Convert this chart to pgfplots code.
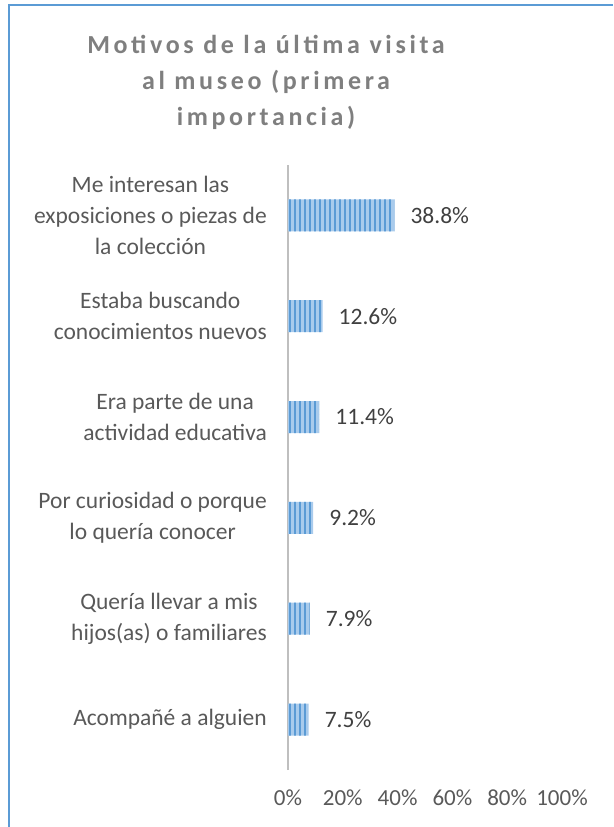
\documentclass[border=0pt]{standalone}
\usepackage{pgfplots}
\pgfplotsset{compat=1.18}
\usepackage{fontspec}
\setmainfont{Carlito}
\newfontfamily\titlefont[LetterSpace=14]{Carlito}
\usetikzlibrary{patterns.meta}
\definecolor{frameblue}{HTML}{5B9BD5}
\definecolor{barlight}{HTML}{A9CBEC}
\definecolor{barstripe}{HTML}{5B9BD5}
\definecolor{titlegray}{HTML}{7F7F7F}
\definecolor{labgray}{HTML}{595959}
\definecolor{valgray}{HTML}{404040}
\definecolor{axgray}{HTML}{BFBFBF}
\begin{document}
\begin{tikzpicture}[x=1pt,y=1pt]
\useasboundingbox (0,0) rectangle (613,827);
\draw[frameblue, line width=2pt] (8.5,0) -- (8.5,821.5) -- (613,821.5);
\node[align=center, text=titlegray, font=\titlefont\bfseries\fontsize{26}{36}\selectfont, inner sep=0pt] at (266,745)
  {Motivos de la última visita\\al museo (primera\\importancia)};
\begin{axis}[
  at={(288pt,57pt)}, anchor=south west,
  scale only axis, width=274pt, height=605pt,
  xbar, bar width=32pt,
  xmin=0, xmax=100, ymin=-0.5, ymax=5.5,
  xtick={0,20,40,60,80,100},
  xticklabel={\pgfmathprintnumber{\tick}\%},
  ytick={0,1,2,3,4,5},
  yticklabels={
    {Acompañé a alguien},
    {Quería llevar a mis\\hijos(as) o familiares},
    {Por curiosidad o porque\\lo quería conocer},
    {Era parte de una\\actividad educativa},
    {Estaba buscando\\conocimientos nuevos},
    {Me interesan las\\exposiciones o piezas de\\la colección}},
  major tick length=0pt,
  axis x line*=bottom, axis y line*=left,
  x axis line style={draw=none},
  y axis line style={draw=axgray, line width=2.5pt, -},
  /pgf/number format/assume math mode=true,
  xticklabel style={font=\fontsize{23}{26}\selectfont, text=labgray, yshift=-16pt},
  yticklabel style={font=\fontsize{23.5}{31}\selectfont, text=labgray, align=center, inner sep=0pt, xshift=-21pt},
  nodes near coords={\pgfmathprintnumber[fixed,fixed zerofill,precision=1]{\pgfplotspointmeta}\%},
  nodes near coords style={font=\fontsize{23.5}{26}\selectfont, text=valgray, anchor=west, inner sep=0pt, xshift=16pt},
  point meta=explicit,
  clip=false,
]
\addplot[draw=none, fill=barlight, postaction={pattern={Lines[angle=90,distance=5pt,line width=2.5pt]}, pattern color=barstripe}]
  coordinates {(7.5,0) [7.5] (7.9,1) [7.9] (9.2,2) [9.2] (11.4,3) [11.4] (12.6,4) [12.6] (38.8,5) [38.8]};
\end{axis}
\end{tikzpicture}
\end{document}
